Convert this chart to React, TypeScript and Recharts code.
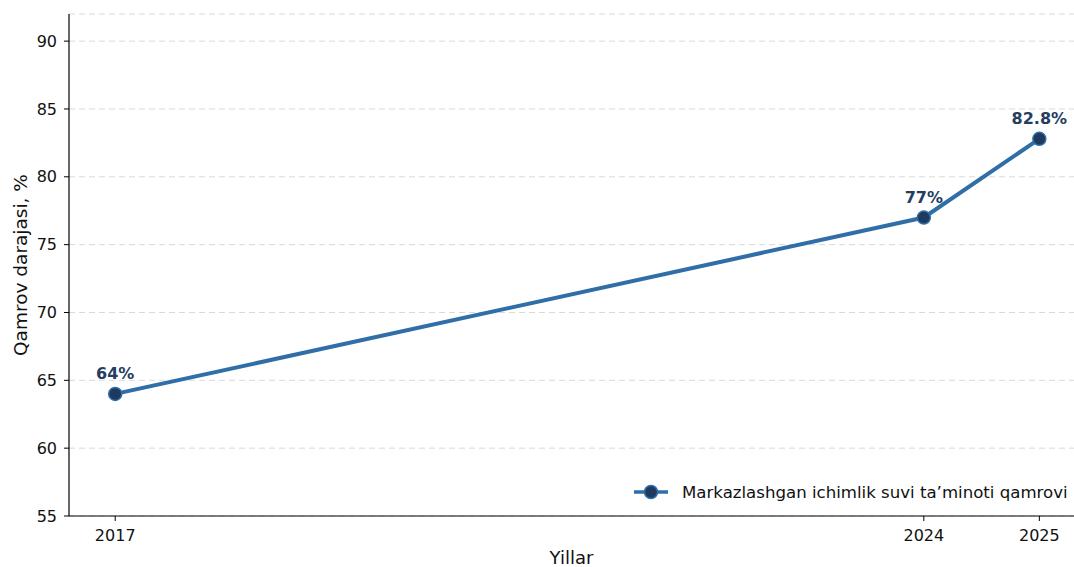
import { CartesianGrid, LabelList, Line, LineChart, XAxis, YAxis } from "recharts";

const years = [2017, 2024, 2025];
const coverage = [64, 77, 82.8];
const valueLabels = ["64%", "77%", "82.8%"];
const yTicks = [55, 60, 65, 70, 75, 80, 85, 90];

const SERIES_NAME = "Markazlashgan ichimlik suvi ta’minoti qamrovi";
const LINE = "#2f6ea6";
const DOT = "#1f3a5f";
const LABEL = "#253d5f";
const FONT = "'DejaVu Sans', sans-serif";

const data = years.map((year, i) => ({ year, value: coverage[i], label: valueLabels[i] }));

// eslint-disable-next-line @typescript-eslint/no-explicit-any
function PointLabel({ x, y, value }: any) {
  return (
    <text x={x} y={y - 15} textAnchor="middle" fontFamily={FONT} fontSize={16} fontWeight="bold" fill={LABEL}>
      {value}
    </text>
  );
}

// eslint-disable-next-line @typescript-eslint/no-explicit-any
function Dot({ cx, cy }: any) {
  return <circle cx={cx} cy={cy} r={6.5} fill={DOT} stroke={LINE} strokeWidth={1.5} />;
}

function LegendBox() {
  return (
    <div
      style={{
        position: "absolute",
        left: 630,
        top: 481,
        display: "flex",
        alignItems: "center",
        fontFamily: FONT,
        fontSize: 16.6,
        color: "#111",
      }}
    >
      <svg width={42} height={22}>
        <line x1={4} y1={11} x2={38} y2={11} stroke={LINE} strokeWidth={3.5} />
        <circle cx={21} cy={11} r={6.5} fill={DOT} stroke={LINE} strokeWidth={1.5} />
      </svg>
      <span style={{ marginLeft: 10 }}>{SERIES_NAME}</span>
    </div>
  );
}

export default function App() {
  return (
    <div style={{ position: "absolute", left: 0, top: 0, width: 1074, height: 567, overflow: "hidden", background: "#fff" }}>
      <LineChart width={1074} height={567} data={data} margin={{ top: 14, right: 0, left: 0, bottom: 0 }}>
        <CartesianGrid vertical={false} stroke="#d9d9d9" strokeDasharray="6 4" />
        <XAxis
          dataKey="year"
          type="number"
          domain={[2016.6, 2025.3]}
          ticks={years}
          allowDataOverflow
          height={51}
          axisLine={{ stroke: "#000", strokeWidth: 1.2 }}
          tickLine={{ stroke: "#000" }}
          tickSize={5}
          tickMargin={9}
          tick={{ fill: "#111", fontSize: 16, fontFamily: FONT }}
          label={{ value: "Yillar", position: "insideBottom", offset: 3, fill: "#111", fontSize: 18, fontFamily: FONT }}
        />
        <YAxis
          type="number"
          domain={[55, 92]}
          ticks={yTicks}
          allowDataOverflow
          width={69}
          axisLine={{ stroke: "#000", strokeWidth: 1.2 }}
          tickLine={{ stroke: "#000" }}
          tickSize={5}
          tickMargin={7}
          tick={{ fill: "#111", fontSize: 16, fontFamily: FONT }}
          label={{
            value: "Qamrov darajasi, %",
            angle: -90,
            position: "insideLeft",
            offset: 20,
            style: { textAnchor: "middle" },
            fill: "#111",
            fontSize: 18.5,
            fontFamily: FONT,
          }}
        />
        <Line
          type="linear"
          dataKey="value"
          name={SERIES_NAME}
          stroke={LINE}
          strokeWidth={4}
          dot={<Dot />}
          activeDot={false}
          isAnimationActive={false}
        >
          <LabelList dataKey="label" content={<PointLabel />} />
        </Line>
      </LineChart>
      <LegendBox />
    </div>
  );
}
